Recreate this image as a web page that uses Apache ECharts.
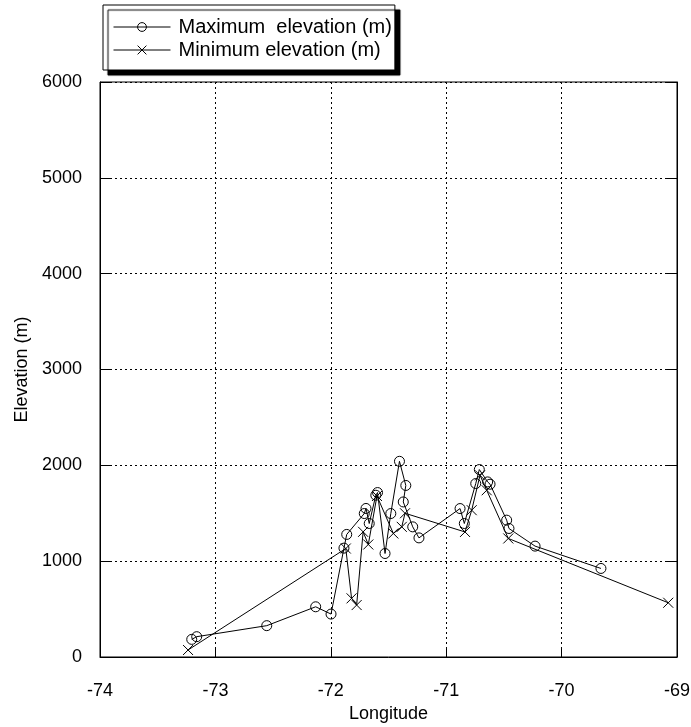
<!DOCTYPE html>
<html>
<head>
<meta charset="utf-8">
<script src="https://cdn.jsdelivr.net/npm/echarts@6/dist/echarts.min.js"></script>
<style>
  html, body { margin: 0; padding: 0; background: #fff; }
  #chart { width: 691px; height: 727px; }
</style>
</head>
<body>
<div id="chart"></div>
<script>
// Longitude (deg) and elevation (m) of each site
const maxLon = [-73.205, -73.162, -72.555, -72.131, -71.998, -71.886, -71.862, -71.71, -71.695, -71.667, -71.61, -71.595, -71.53, -71.48, -71.405, -71.35, -71.372, -71.29, -71.236, -70.88, -70.843, -70.744, -70.713, -70.641, -70.62, -70.476, -70.456, -70.23, -69.659];
const maxElev = [184, 212, 327, 524, 448, 1136, 1279, 1497, 1550, 1393, 1688, 1716, 1080, 1497, 2042, 1790, 1618, 1358, 1243, 1549, 1393, 1810, 1956, 1827, 1803, 1428, 1341, 1157, 924];

const minLon = [-73.237, -71.87, -71.82, -71.776, -71.72, -71.675, -71.60, -71.458, -71.385, -71.357, -70.837, -70.779, -70.707, -70.649, -70.462, -69.076];
const minElev = [73, 1132, 612, 542, 1306, 1174, 1680, 1289, 1358, 1500, 1305, 1532, 1896, 1740, 1237, 566];

const xTicks = [-74, -73, -72, -71, -70, -69];
const yTicks = [0, 1000, 2000, 3000, 4000, 5000, 6000];

const pairs = (xs, ys) => xs.map((x, i) => [x, ys[i]]);
const font = 'Liberation Sans, Arial, sans-serif';
const crossPath = 'path://M0,0L10,10M10,0L0,10';

const chart = echarts.init(document.getElementById('chart'), null, { renderer: 'canvas' });

const tickStyle = { show: true, inside: true, length: 10, lineStyle: { color: '#000', width: 1 } };
const gridDots = { show: true, lineStyle: { color: '#000', type: [2, 3], width: 1 } };

chart.setOption({
  backgroundColor: '#fff',
  animation: false,
  grid: {
    left: 100, right: 14, top: 82, bottom: 70,
    outerBoundsMode: 'none',
    show: true, borderColor: '#000', borderWidth: 1, backgroundColor: 'transparent'
  },
  legend: {
    left: 103, top: 5,
    orient: 'vertical',
    padding: [12, 3, 10, 10],
    itemGap: 3,
    itemWidth: 57, itemHeight: 11,
    backgroundColor: '#fff',
    borderColor: '#000', borderWidth: 1,
    shadowColor: '#000', shadowBlur: 1, shadowOffsetX: 5, shadowOffsetY: 5,
    lineStyle: { width: 1 },
    itemStyle: { borderWidth: 1 },
    textStyle: { fontFamily: font, fontSize: 20, color: '#000', padding: [0, 0, 0, 3] },
    data: ['Maximum  elevation (m)', 'Minimum elevation (m)']
  },
  xAxis: [{
    type: 'value', min: xTicks[0], max: xTicks[xTicks.length - 1], interval: 1,
    name: 'Longitude', nameLocation: 'middle', nameGap: 46,
    nameTextStyle: { fontFamily: font, fontSize: 18, color: '#000' },
    axisLine: { show: true, lineStyle: { color: '#000' } },
    axisTick: tickStyle,
    axisLabel: { fontFamily: font, fontSize: 18, color: '#000', margin: 25, formatter: v => String(v) },
    splitLine: gridDots
  }],
  yAxis: [{
    type: 'value', min: yTicks[0], max: yTicks[yTicks.length - 1], interval: 1000,
    name: 'Elevation (m)', nameLocation: 'middle', nameGap: 69, nameRotate: 90,
    nameTextStyle: { fontFamily: font, fontSize: 18, color: '#000' },
    axisLine: { show: true, lineStyle: { color: '#000' } },
    axisTick: tickStyle,
    axisLabel: { fontFamily: font, fontSize: 18, color: '#000', margin: 18, formatter: v => String(v) },
    splitLine: gridDots
  }, {
    type: 'value', position: 'right', min: yTicks[0], max: yTicks[yTicks.length - 1], interval: 1000,
    axisLine: { show: true, lineStyle: { color: '#000' } },
    axisTick: tickStyle,
    axisLabel: { show: false },
    splitLine: { show: false }
  }],
  series: [{
    name: 'Maximum  elevation (m)',
    type: 'line',
    data: pairs(maxLon, maxElev),
    symbol: 'circle', symbolSize: 10,
    lineStyle: { color: '#000', width: 1 },
    itemStyle: { color: 'none', borderColor: '#000', borderWidth: 1 },
    z: 3
  }, {
    name: 'Minimum elevation (m)',
    type: 'line',
    data: pairs(minLon, minElev),
    symbol: crossPath, symbolSize: 10,
    lineStyle: { color: '#000', width: 1 },
    itemStyle: { color: 'none', borderColor: '#000', borderWidth: 1 },
    z: 2
  }]
});
</script>
</body>
</html>
